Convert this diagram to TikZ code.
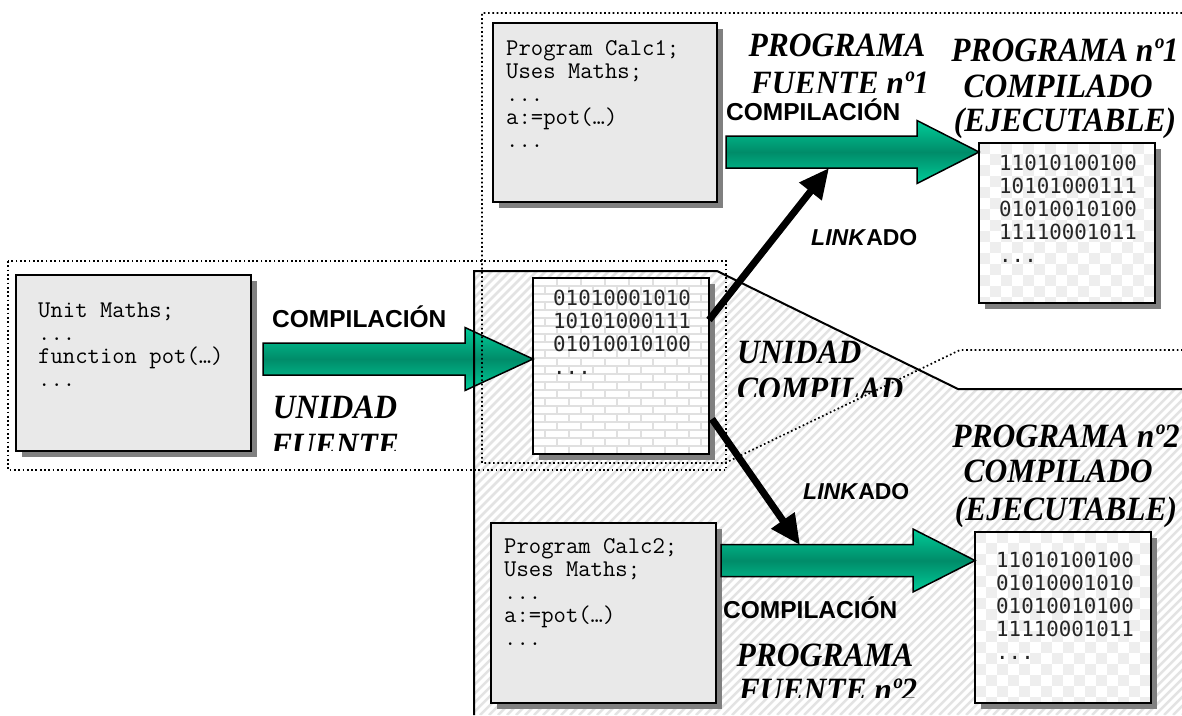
\documentclass[tikz,border=0pt]{standalone}
\usepackage{fontspec}
\usetikzlibrary{arrows.meta,calc}

\newfontfamily\binfont{DejaVu Sans Mono}
\newfontfamily\labelsans{Liberation Sans}
\newfontfamily\labelserif{Liberation Serif}

\definecolor{shgray}{HTML}{808080}
\definecolor{boxgray}{HTML}{E9E9E9}
\definecolor{gedge}{HTML}{00CC99}
\definecolor{gmid}{HTML}{008C69}
\definecolor{hatchgray}{HTML}{E3E3E3}
\definecolor{brickgray}{HTML}{E0E0E0}
\definecolor{checkgray}{HTML}{EEEEEE}

\tikzset{
  panel/.style={draw=black, line width=2pt, inner sep=0pt, outer sep=0pt},
  codepanel/.style={panel, fill=boxgray},
  whitepanel/.style={panel, fill=white},
  code/.style={anchor=north west, inner sep=0pt, align=left,
    font=\ttfamily\fontsize{24pt}{23pt}\selectfont},
  bincode/.style={anchor=north west, inner sep=0pt, align=left, text=black!85,
    font=\binfont\fontsize{20.8pt}{23pt}\selectfont},
  stagelabel/.style={anchor=base, inner sep=0pt,
    font=\labelserif\bfseries\itshape\fontsize{31.5pt}{36pt}\selectfont},
  stagelabelw/.style={stagelabel, anchor=base west},
  actlabel/.style={anchor=base west, inner sep=0pt,
    font=\labelsans\bfseries\fontsize{24.5pt}{28pt}\selectfont},
  linklabel/.style={anchor=base west, inner sep=0pt,
    font=\labelsans\bfseries\fontsize{23pt}{26pt}\selectfont},
  greenarrow/.style={draw=black, line width=1.5pt,
    top color=gedge, bottom color=gedge, middle color=gmid},
  linkarrow/.style={line width=7pt, -{Triangle[length=30pt,width=27pt]}},
  dotline/.style={line width=1.7pt, dash pattern=on 1.7pt off 2.6pt},
  regionline/.style={line width=2pt},
}

% slightly tall lettering for the stage titles
\newcommand\tall[1]{\scalebox{1}[1.08]{#1}}

% panel with a drop shadow: name, style, x, y, width, height
\newcommand\shadowpanel[6]{%
  \fill[shgray] (#3+6,#4+6) rectangle ++(#5,#6);
  \node[#2, anchor=north west, minimum width=#5pt, minimum height=#6pt] (#1) at (#3,#4) {};
}

% checkerboard texture inside a panel: name, x, y
\newcommand\checkerfill[3]{%
  \begin{scope}
    \clip (#1.north west) rectangle (#1.south east);
    \foreach \i in {0,...,16} \foreach \j in {0,...,16} {
      \pgfmathtruncatemacro\cpar{mod(\i+\j,2)}
      \ifnum\cpar=0 \fill[checkgray] (#2+11*\i,#3+11*\j) rectangle ++(11,11); \fi
    }
  \end{scope}
  \draw[panel] (#1.north west) rectangle (#1.south east);
}

% block arrow with a shaded body: from, tip, head length
\newcommand\blockarrow[3]{%
  \shadedraw[greenarrow] let \p1=(#1), \p2=(#2) in
    (\x1,\y1+16pt) -- (\x2-#3pt,\y1+16pt) -- (\x2-#3pt,\y1+31.5pt) -- (\x2,\y1)
    -- (\x2-#3pt,\y1-31.5pt) -- (\x2-#3pt,\y1-16pt) -- (\x1,\y1-16pt) -- cycle;
}

\begin{document}
\begin{tikzpicture}[x=1pt,y=-1pt]
  \useasboundingbox (0,0) rectangle (1182,715);
  \fill[white] (0,0) rectangle (1182,715);

  % hatched area of the second program
  \begin{scope}
    \clip (474,715) -- (474,271) -- (717,271) -- (958,389) -- (1182,389) -- (1182,715) -- cycle;
    \foreach \c in {745,754,...,1900}
      \draw[hatchgray, line width=2.5pt] (\c-715,715) -- (\c-271,271);
  \end{scope}

  % source panels
  \shadowpanel{um}{codepanel}{16}{275}{235}{176}
  \shadowpanel{c1}{codepanel}{493}{23}{224}{179}
  \shadowpanel{c2}{codepanel}{491}{523}{225}{180}

  % compiled unit (brick texture)
  \shadowpanel{cu}{whitepanel}{533}{278}{176}{176}
  \begin{scope}
    \clip (cu.north west) rectangle (cu.south east);
    \foreach \r in {0,...,21} {
      \draw[brickgray, line width=1.4pt] (533,278+8*\r) -- ++(176,0);
      \pgfmathsetmacro\brickoff{mod(\r,2)*12}
      \foreach \k in {-1,0,...,8}
        \draw[brickgray, line width=1.4pt] (533+\brickoff+24*\k,278+8*\r) -- ++(0,8);
    }
  \end{scope}
  \draw[panel] (cu.north west) rectangle (cu.south east);

  % executables (checker texture)
  \shadowpanel{ex1}{whitepanel}{979}{143}{176}{160}
  \checkerfill{ex1}{979}{143}
  \shadowpanel{ex2}{whitepanel}{975}{532}{176}{171}
  \checkerfill{ex2}{975}{532}

  % panel contents
  \node[code] (umtext) at (38,297) {\rule{0pt}{20pt}Unit Maths;\\...\\function pot(…)\\...};
  \node[code] (c1text) at (506,35) {\rule{0pt}{20pt}Program Calc1;\\Uses Maths;\\...\\a:=pot(…)\\...};
  \node[code] (c2text) at (504,533) {\rule{0pt}{20pt}Program Calc2;\\Uses Maths;\\...\\a:=pot(…)\\...};
  \node[bincode] (cutext) at (553,285) {\rule{0pt}{20pt}01010001010\\10101000111\\01010010100\\...};
  \node[bincode] (ex1text) at (999,150) {\rule{0pt}{20pt}11010100100\\10101000111\\01010010100\\11110001011\\...};
  \node[bincode] (ex2text) at (996,547) {\rule{0pt}{20pt}11010100100\\01010001010\\01010010100\\11110001011\\...};

  % compilation arrows
  \coordinate (a1s) at (263,359);
  \coordinate (a1e) at (cu.west |- a1s);
  \coordinate (a2s) at (726,152);
  \coordinate (a2e) at (ex1.west |- a2s);
  \coordinate (a3s) at (721,560.5);
  \coordinate (a3e) at (ex2.west |- a3s);
  \blockarrow{a1s}{a1e}{68}
  \blockarrow{a2s}{a2e}{62}
  \blockarrow{a3s}{a3e}{62}

  % region borders
  \draw[regionline] (474,715) -- (474,271) -- (717,271) -- (958,389) -- (1182,389);
  \draw[dotline] (8,261) rectangle (726,470);
  \draw[dotline] (1182,13) -- (482,13) -- (482,463) -- (725,463) -- (960,350) -- (1182,350);

  % linking arrows
  \coordinate (l1s) at (709,320);
  \coordinate (l1e) at (829,168);
  \coordinate (l2s) at (712,419);
  \coordinate (l2e) at (800,545);
  \draw[linkarrow] (l1s) -- (l1e);
  \draw[linkarrow] (l2s) -- (l2e);

  % step labels
  \node[actlabel] (comp1) at (272,327.5) {COMPILACIÓN};
  \node[actlabel] (comp2) at (726,120.5) {COMPILACIÓN};
  \node[actlabel] (comp3) at (723,618.5) {COMPILACIÓN};
  \node[linklabel] (link1) at (811,245) {\textit{LINK}ADO};
  \node[linklabel] (link2) at (803,499) {\textit{LINK}ADO};

  % stage labels
  \node[stagelabel] (pf1a) at (837,56) {\tall{PROGRAMA}};
  \begin{scope}
    \clip (700,60) rectangle (960,92);
    \node[stagelabel] (pf1b) at (840,94) {\tall{FUENTE nº1}};
  \end{scope}
  \node[stagelabel] (pc1a) at (1065,61) {\tall{PROGRAMA nº1}};
  \node[stagelabel] (pc1b) at (1058,97) {\tall{COMPILADO}};
  \node[stagelabel] (pc1c) at (1065,131) {\tall{(EJECUTABLE)}};

  \node[stagelabel] (ufa) at (335,418) {\tall{UNIDAD}};
  \begin{scope}
    \clip (250,422) rectangle (430,450);
    \node[stagelabel] (ufb) at (335,456) {\tall{FUENTE}};
  \end{scope}

  \node[stagelabelw] (uca) at (737,363) {\tall{UNIDAD}};
  \begin{scope}
    \clip (720,368) rectangle (940,396);
    \node[stagelabelw] (ucb) at (737,400) {\tall{COMPILAD}};
  \end{scope}

  \node[stagelabel] (pf2a) at (825,666) {\tall{PROGRAMA}};
  \begin{scope}
    \clip (720,670) rectangle (960,697);
    \node[stagelabel] (pf2b) at (828,701) {\tall{FUENTE nº2}};
  \end{scope}
  \node[stagelabel] (pc2a) at (1066,447) {\tall{PROGRAMA nº2}};
  \node[stagelabel] (pc2b) at (1058,482) {\tall{COMPILADO}};
  \node[stagelabel] (pc2c) at (1066,520) {\tall{(EJECUTABLE)}};
\end{tikzpicture}
\end{document}
